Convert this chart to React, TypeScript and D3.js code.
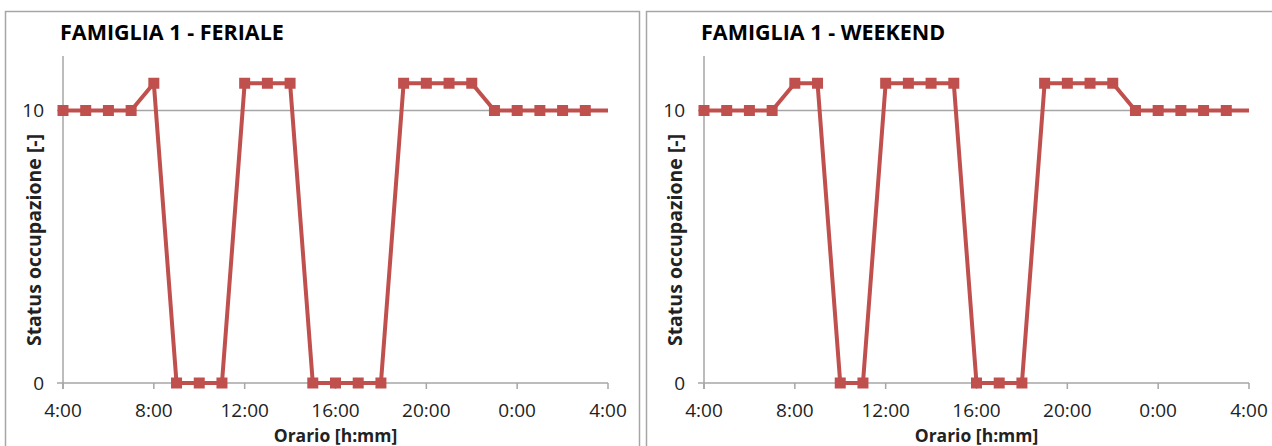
import * as d3 from "d3";
import React from "react";

// hourly status, 4:00 -> 4:00 next day (last point drawn without marker)
const hours = [4, 5, 6, 7, 8, 9, 10, 11, 12, 13, 14, 15, 16, 17, 18, 19, 20, 21, 22, 23, 24, 25, 26, 27, 28];
const feriale = [10, 10, 10, 10, 11, 0, 0, 0, 11, 11, 11, 0, 0, 0, 0, 11, 11, 11, 11, 10, 10, 10, 10, 10, 10];
const weekend = [10, 10, 10, 10, 11, 11, 0, 0, 11, 11, 11, 11, 0, 0, 0, 11, 11, 11, 11, 10, 10, 10, 10, 10, 10];
const tickHours = [4, 8, 12, 16, 20, 24, 28];
const tickLabels = ["4:00", "8:00", "12:00", "16:00", "20:00", "0:00", "4:00"];
const yTicks = [0, 10];

const font = "'Open Sans', 'Liberation Sans', sans-serif";
const red = "#c0504d";
const grey = "#a6a6a6";

interface IPanelProps {
  left: number;
  title: string;
  values: number[];
}

function Panel({ left, title, values }: IPanelProps) {
  const x0 = left + 58;
  const x = d3.scaleLinear().domain([4, 28]).range([x0, x0 + 545]);
  const y = d3.scaleLinear().domain([0, 12]).range([383, 56]);
  const pts: [number, number][] = hours.map((h, i) => [x(h), y(values[i])]);
  const line = d3.line()(pts) || "";
  const cx = (x(4) + x(28)) / 2;

  return (
    <g>
      <rect x={left + 0.5} y={11.5} width={634} height={460} fill="#fff" stroke={grey} strokeWidth={1.5} />
      <text x={x0 - 3} y={40} fontFamily={font} fontWeight="bold" fontSize={21.5} fill="#000">
        {title}
      </text>
      {/* gridline at 10 */}
      <line x1={x(4)} x2={x(28)} y1={y(10)} y2={y(10)} stroke={grey} strokeWidth={1.5} />
      {/* y axis */}
      <line x1={x(4)} x2={x(4)} y1={y(12)} y2={y(0) + 6} stroke={grey} strokeWidth={1.5} />
      {yTicks.map((t) => (
        <g key={t}>
          <line x1={x(4) - 6} x2={x(4)} y1={y(t)} y2={y(t)} stroke={grey} strokeWidth={1.5} />
          <text x={x(4) - 19} y={y(t)} dy="0.35em" textAnchor="end" fontFamily={font} fontSize={19} fill="#222">
            {t}
          </text>
        </g>
      ))}
      {/* x axis */}
      <line x1={x(4)} x2={x(28)} y1={y(0)} y2={y(0)} stroke={grey} strokeWidth={1.5} />
      {tickHours.map((h, i) => (
        <g key={i}>
          <line x1={x(h)} x2={x(h)} y1={y(0)} y2={y(0) + 6} stroke={grey} strokeWidth={1.5} />
          <text x={x(h)} y={417} textAnchor="middle" fontFamily={font} fontSize={19} fill="#222">
            {tickLabels[i]}
          </text>
        </g>
      ))}
      <text x={cx} y={442} textAnchor="middle" fontFamily={font} fontWeight="bold" fontSize={17.5} fill="#222">
        Orario [h:mm]
      </text>
      <text
        transform={`translate(${left + 36},${240}) rotate(-90)`}
        textAnchor="middle"
        fontFamily={font}
        fontWeight="bold"
        fontSize={19.5}
        fill="#222"
      >
        Status occupazione [-]
      </text>
      <path d={line} fill="none" stroke={red} strokeWidth={4} strokeLinejoin="round" />
      {pts.slice(0, 24).map((p, i) => (
        <rect key={i} x={p[0] - 5.5} y={p[1] - 5.5} width={11} height={11} fill={red} />
      ))}
    </g>
  );
}

export default function App() {
  return (
    <svg
      width={1272}
      height={446}
      style={{ position: "absolute", left: 0, top: 0, background: "#fff" }}
    >
      <rect width={1272} height={446} fill="#fff" />
      <Panel left={5} title="FAMIGLIA 1 - FERIALE" values={feriale} />
      <Panel left={646} title="FAMIGLIA 1 - WEEKEND" values={weekend} />
    </svg>
  );
}
